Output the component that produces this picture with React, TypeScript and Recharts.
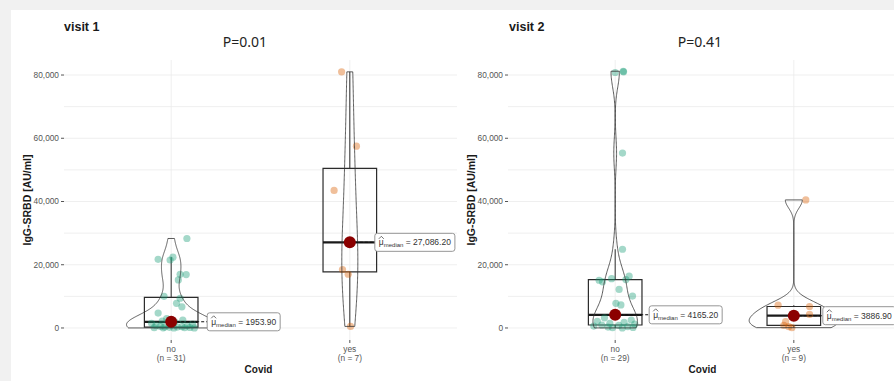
import React from 'react';
import { ComposedChart, Scatter, XAxis, YAxis, CartesianGrid, ReferenceArea, ReferenceLine } from 'recharts';

// values; jitter = horizontal offset of each dot in category units
const v1NoValues = [28300, 22400, 21700, 21500, 17000, 16900, 15200, 10000, 9400, 7800, 6700, 4700, 3000, 2500, 2200, 1953.9, 1500, 1200, 900, 700, 500, 400, 300, 300, 200, 150, 100, 80, 50, 30, 10];
const v1NoJitter = [0.088, 0.01, -0.073, -0.006, 0.05, 0.084, 0.04, -0.04, 0.05, 0.03, 0.06, -0.073, -0.025, 0.065, -0.05, 0.02, -0.11, 0.12, -0.085, 0.09, -0.06, 0.06, -0.035, 0.035, -0.01, 0.105, -0.095, 0.075, -0.045, 0.015, 0.13];
const v1YesValues = [81000, 57500, 43500, 27086.2, 18500, 17000, 500];
const v1YesJitter = [-0.046, 0.037, -0.088, 0, -0.041, -0.009, 0.004];

const v2NoValues = [81200, 81000, 80800, 55300, 24900, 16400, 15600, 15300, 15100, 14600, 12200, 10100, 7800, 7300, 4165.2, 3200, 2500, 2100, 1800, 1500, 1200, 950, 800, 600, 450, 300, 150, 80, 20];
const v2NoJitter = [0.045, 0.047, 0.0, 0.041, 0.041, 0.078, -0.02, 0.06, -0.09, -0.071, 0.022, 0.097, 0.004, 0.032, 0.0, -0.06, 0.09, -0.1, 0.05, -0.03, 0.11, -0.075, 0.02, -0.12, 0.07, -0.04, 0.1, -0.015, 0.04];
const v2YesValues = [40500, 7200, 6800, 4300, 3886.9, 2000, 800, 400, 100];
const v2YesJitter = [0.067, -0.088, 0.088, 0.088, 0, -0.046, -0.056, -0.028, -0.011];

const groupNames = ['no', 'yes'];
const panelTitles = ['visit 1', 'visit 2'];
const pValues = ['P=0.01', 'P=0.41'];
const yTicks = [0, 20000, 40000, 60000, 80000];
const gridValues = [0, 10000, 20000, 30000, 40000, 50000, 60000, 70000, 80000];

const FONT = '"Liberation Sans", Arial, sans-serif';
const GREEN = '#1b9e77';
const ORANGE = '#d95f02';

const quantile = (sorted: number[], p: number) => {
  const h = (sorted.length - 1) * p;
  const lo = Math.floor(h);
  const hi = Math.min(lo + 1, sorted.length - 1);
  return sorted[lo] + (h - lo) * (sorted[hi] - sorted[lo]);
};

const boxStats = (values: number[]) => {
  const s = [...values].sort((a, b) => a - b);
  const q1 = quantile(s, 0.25);
  const med = quantile(s, 0.5);
  const q3 = quantile(s, 0.75);
  const iqr = q3 - q1;
  const upper = Math.max(...s.filter((v) => v <= q3 + 1.5 * iqr));
  const lower = Math.min(...s.filter((v) => v >= q1 - 1.5 * iqr));
  return { q1, med, q3, upper, lower };
};

// same rule as R's bw.nrd0
const bandwidth = (values: number[]) => {
  const n = values.length;
  const mean = values.reduce((a, b) => a + b, 0) / n;
  const sd = Math.sqrt(values.reduce((a, b) => a + (b - mean) ** 2, 0) / (n - 1));
  const s = [...values].sort((a, b) => a - b);
  const iqr = quantile(s, 0.75) - quantile(s, 0.25);
  return 0.9 * Math.min(sd, iqr / 1.34) * Math.pow(n, -0.2);
};

const densityCurve = (values: number[], steps = 200) => {
  const bw = bandwidth(values);
  const lo = Math.min(...values);
  const hi = Math.max(...values);
  const k = 1 / (values.length * bw * Math.sqrt(2 * Math.PI));
  const out: { y: number; d: number }[] = [];
  for (let i = 0; i <= steps; i++) {
    const y = lo + ((hi - lo) * i) / steps;
    let d = 0;
    values.forEach((v) => {
      d += Math.exp(-0.5 * ((y - v) / bw) ** 2);
    });
    out.push({ y, d: d * k });
  }
  return out;
};

const fmt = (v: number) => v.toLocaleString('en-US');
const fmtMedian = (v: number) =>
  v >= 10000
    ? v.toLocaleString('en-US', { minimumFractionDigits: 2, maximumFractionDigits: 2 })
    : v.toFixed(2);

const labelWidth = (txt: string) => {
  let w = 0;
  for (const ch of txt) w += ch === '.' || ch === ',' || ch === ' ' ? 0.278 : ch === '=' ? 0.584 : 0.556;
  return 8 + 8.5 * 0.576 + 6 * 3.28 + 8.5 * w;
};

const Nothing = () => <g />;

const Dot = (props: any) => {
  const { cx, cy, fill } = props;
  return <circle cx={cx} cy={cy} r={3.6} fill={fill} fillOpacity={0.4} />;
};

const MedianMarker = (props: any) => {
  const { cx, cy, payload } = props;
  const txt = ' = ' + fmtMedian(payload.y);
  const lx = cx + payload.dx;
  const w = labelWidth(txt);
  const hx = lx + 4;
  return (
    <g>
      <line x1={cx} y1={cy} x2={lx} y2={cy} stroke="#111" strokeWidth={1.1} strokeDasharray="3 2" />
      <circle cx={cx} cy={cy} r={6} fill="#8b0000" />
      <rect x={lx} y={cy - 9} width={w} height={18} rx={2.5} fill="#fff" stroke="#8a8a8a" strokeWidth={0.9} />
      <path d={`M${hx} ${cy - 3.5} L${hx + 2.5} ${cy - 6} L${hx + 5} ${cy - 3.5}`} fill="none" stroke="#333" strokeWidth={0.7} />
      <text x={hx} y={cy + 3} fontFamily={FONT} fill="#333">
        <tspan fontSize={8.5}>{'\u03bc'}</tspan>
        <tspan fontSize={6} dy={2}>median</tspan>
        <tspan fontSize={8.5} dy={-2}>{txt}</tspan>
      </text>
    </g>
  );
};

interface Group {
  values: number[];
  jitter: number[];
  color: string;
  labelDx: number;
}

const Panel = ({ groups, left }: { groups: Group[]; left: number }) => {
  const curves = groups.map((g) => densityCurve(g.values));
  const maxD = Math.max(...curves.map((c) => Math.max(...c.map((p) => p.d))));
  const stats = groups.map((g) => boxStats(g.values));

  const XTick = (props: any) => {
    const { x, y, payload } = props;
    const i = payload.value - 1;
    return (
      <text x={x} y={y} textAnchor="middle" fontFamily={FONT} fontSize={8.3} fill="#555">
        <tspan x={x} dy={7}>{groupNames[i]}</tspan>
        <tspan x={x} dy={9}>{`(n = ${groups[i].values.length})`}</tspan>
      </text>
    );
  };

  const yLabel = (props: any) => {
    const vb = props.viewBox;
    const cx = vb.x + 27;
    const cy = vb.y + vb.height / 2;
    return (
      <text x={cx} y={cy} transform={`rotate(-90 ${cx} ${cy})`} textAnchor="middle" dominantBaseline="central"
        fontFamily={FONT} fontWeight="bold" fontSize={10.5} fill="#1a1a1a">
        IgG-SRBD [AU/ml]
      </text>
    );
  };

  const xLabel = (props: any) => {
    const vb = props.viewBox;
    return (
      <text x={vb.x + vb.width / 2 - 2} y={vb.y + 29} textAnchor="middle" dominantBaseline="central"
        fontFamily={FONT} fontWeight="bold" fontSize={10} fill="#1a1a1a">
        Covid
      </text>
    );
  };

  return (
    <div style={{ position: 'absolute', left, top: 0 }}>
      <ComposedChart width={460} height={381} margin={{ top: 60, right: 3, bottom: 0, left: 0 }}>
        <CartesianGrid stroke="#ebebeb" strokeWidth={0.8} horizontalValues={gridValues} verticalValues={[1, 2]} />
        <XAxis type="number" dataKey="x" domain={[0.4, 2.6]} ticks={[1, 2]} interval={0} allowDataOverflow
          axisLine={false} tickSize={3} tickLine={{ stroke: '#555' }} height={41} tick={<XTick />} label={xLabel} />
        <YAxis type="number" dataKey="y" domain={[-3800, 84750]} ticks={yTicks} interval={0} allowDataOverflow width={64}
          axisLine={false} tickSize={3} tickLine={{ stroke: '#555' }} tickFormatter={fmt}
          tick={{ fontSize: 8.3, fill: '#555', fontFamily: FONT }} label={yLabel} />

        {groups.map((g, gi) => (
          <Scatter key={`pts${gi}`} data={g.values.map((v, i) => ({ x: gi + 1 + g.jitter[i], y: v }))}
            fill={g.color} shape={<Dot />} isAnimationActive={false} />
        ))}

        {stats.map((s, gi) => (
          <ReferenceArea key={`box${gi}`} x1={gi + 1 - 0.15} x2={gi + 1 + 0.15} y1={s.q1} y2={s.q3}
            fill="none" fillOpacity={0} stroke="#2b2b2b" strokeWidth={1.2} />
        ))}
        {stats.map((s, gi) => (
          <ReferenceLine key={`med${gi}`} segment={[{ x: gi + 1 - 0.15, y: s.med }, { x: gi + 1 + 0.15, y: s.med }]}
            stroke="#1a1a1a" strokeWidth={2.2} />
        ))}
        {stats.map((s, gi) => (
          <ReferenceLine key={`wu${gi}`} segment={[{ x: gi + 1, y: s.q3 }, { x: gi + 1, y: s.upper }]}
            stroke="#2b2b2b" strokeWidth={1} />
        ))}
        {stats.map((s, gi) => (
          <ReferenceLine key={`wl${gi}`} segment={[{ x: gi + 1, y: s.q1 }, { x: gi + 1, y: s.lower }]}
            stroke="#2b2b2b" strokeWidth={1} />
        ))}

        {curves.map((c, gi) => {
          const cat = gi + 1;
          const right = c.map((p) => ({ x: cat + (0.25 * p.d) / maxD, y: p.y }));
          const leftSide = [...c].reverse().map((p) => ({ x: cat - (0.25 * p.d) / maxD, y: p.y }));
          const poly = [...right, ...leftSide, right[0]];
          return (
            <Scatter key={`vio${gi}`} data={poly} fill="none" shape={<Nothing />}
              line={{ stroke: '#333', strokeWidth: 0.8, fill: 'none' }} lineJointType="linear" isAnimationActive={false} />
          );
        })}

        {stats.map((s, gi) => (
          <Scatter key={`mm${gi}`} data={[{ x: gi + 1, y: s.med, dx: groups[gi].labelDx }]}
            shape={<MedianMarker />} isAnimationActive={false} />
        ))}
      </ComposedChart>
    </div>
  );
};

const visit1: Group[] = [
  { values: v1NoValues, jitter: v1NoJitter, color: GREEN, labelDx: 36 },
  { values: v1YesValues, jitter: v1YesJitter, color: ORANGE, labelDx: 25 },
];
const visit2: Group[] = [
  { values: v2NoValues, jitter: v2NoJitter, color: GREEN, labelDx: 34 },
  { values: v2YesValues, jitter: v2YesJitter, color: ORANGE, labelDx: 29 },
];

export default function App() {
  return (
    <div style={{ position: 'absolute', left: 0, top: 0, width: 894, height: 381, overflow: 'hidden', background: '#f1f1f1' }}>
      <div style={{ position: 'absolute', left: 11, top: 10, right: 0, bottom: 0, background: '#fff' }} />
      <Panel groups={visit1} left={0} />
      <Panel groups={visit2} left={444} />
      <svg width={894} height={381} style={{ position: 'absolute', left: 0, top: 0, pointerEvents: 'none' }}>
        <text x={64} y={30.5} fontFamily={FONT} fontWeight="bold" fontSize={12.5} fill="#1a1a1a">{panelTitles[0]}</text>
        <text x={245} y={46.5} textAnchor="middle" fontFamily='"Noto Sans", sans-serif' fontSize={14} fill="#222">{pValues[0]}</text>
        <text x={509} y={30.5} fontFamily={FONT} fontWeight="bold" fontSize={12.5} fill="#1a1a1a">{panelTitles[1]}</text>
        <text x={700} y={46.5} textAnchor="middle" fontFamily='"Noto Sans", sans-serif' fontSize={14} fill="#222">{pValues[1]}</text>
      </svg>
    </div>
  );
}
